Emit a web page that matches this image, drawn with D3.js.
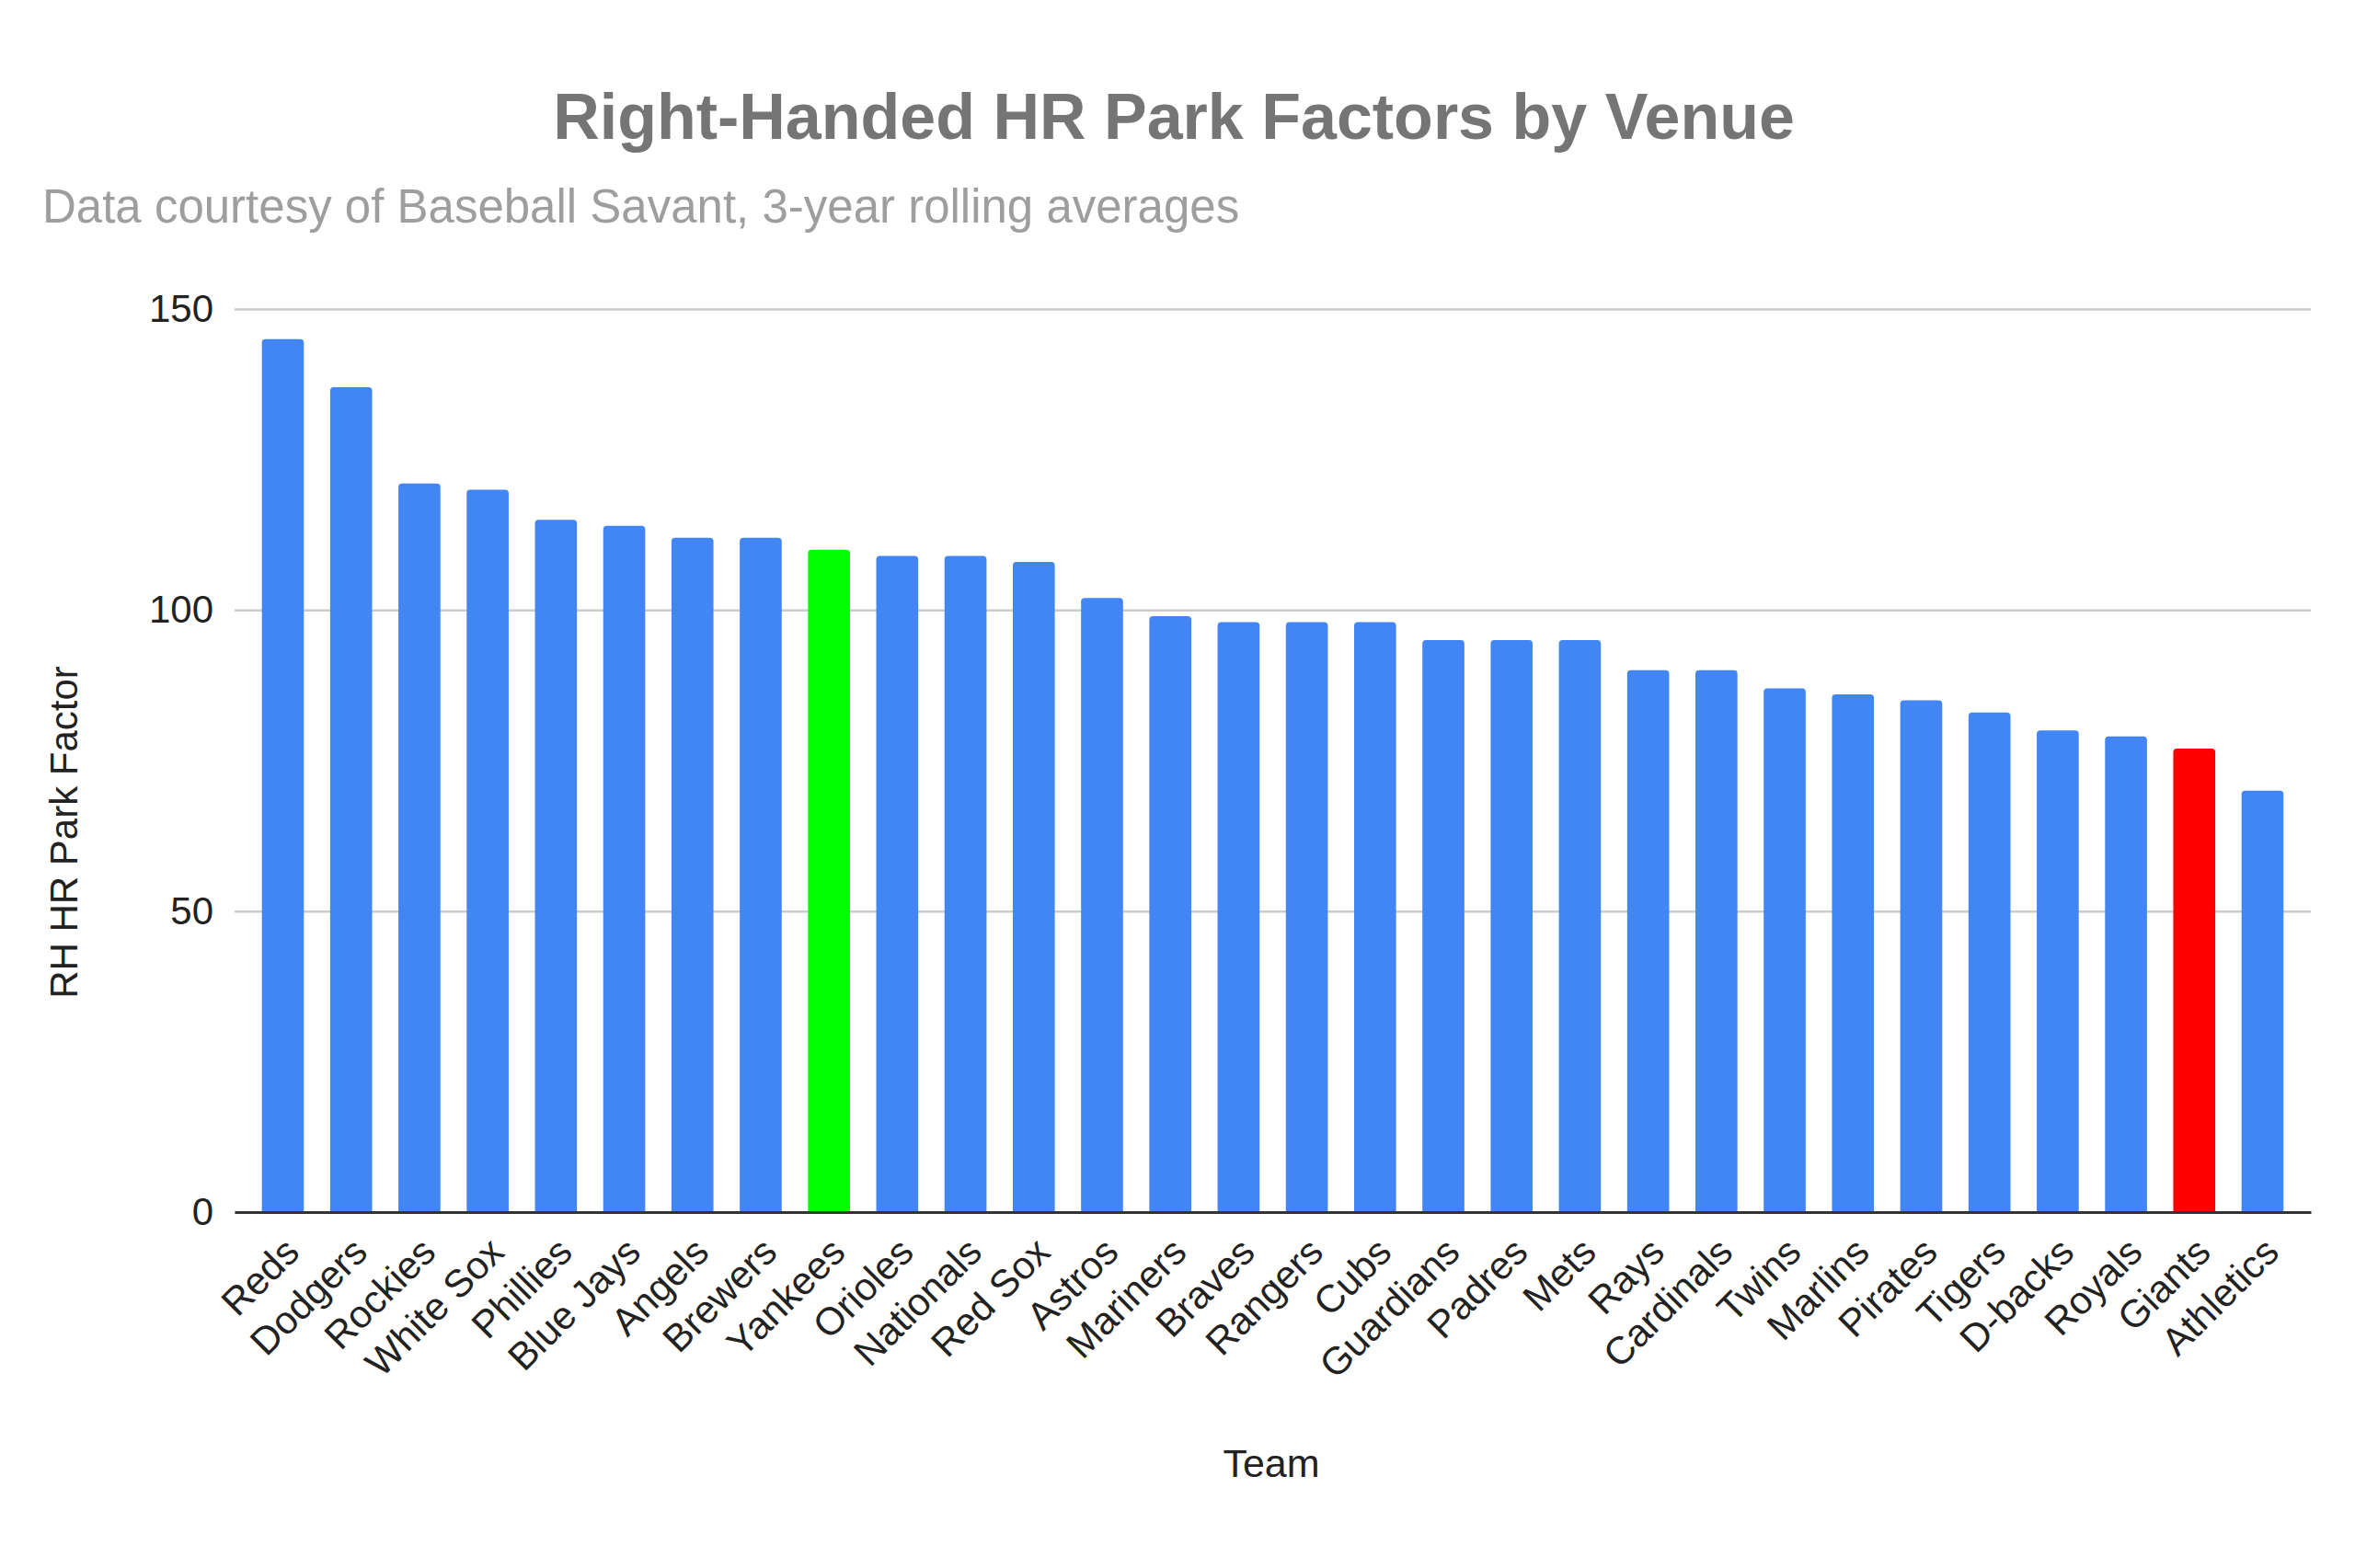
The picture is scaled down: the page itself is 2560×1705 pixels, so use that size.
<!DOCTYPE html>
<html>
<head>
<meta charset="utf-8">
<script src="https://cdn.jsdelivr.net/npm/d3@7"></script>
<style>
  body { margin: 0; background: #fff; }
  text { font-family: "Liberation Sans", Arial, sans-serif; }
</style>
</head>
<body>
<svg id="chart" width="2560" height="1705"></svg>
<script>
// data
var teams = ["Reds","Dodgers","Rockies","White Sox","Phillies","Blue Jays","Angels","Brewers","Yankees","Orioles",
  "Nationals","Red Sox","Astros","Mariners","Braves","Rangers","Cubs","Guardians","Padres","Mets",
  "Rays","Cardinals","Twins","Marlins","Pirates","Tigers","D-backs","Royals","Giants","Athletics"]
var factors = [145, 137, 121, 120, 115, 114, 112, 112, 110, 109,
  109, 108, 102, 99, 98, 98, 98, 95, 95, 95,
  90, 90, 87, 86, 85, 83, 80, 79, 77, 70]
var highlight = {"Yankees": "#00ff00", "Giants": "#ff0000"}
var yTicks = [0, 50, 100, 150]

var BAR_COLOR = "#4285f4"
var svg = d3.select("#chart")

var x = d3.scaleBand().domain(teams).range([255, 2512]).paddingInner(0.385).paddingOuter(0.4)
var y = d3.scaleLinear().domain([0, 150]).range([1318, 336])

// title + subtitle
svg.append("text").attr("x", 1276).attr("y", 151).attr("text-anchor", "middle")
  .style("font-size", "70px").style("font-weight", "bold").style("fill", "#757575")
  .text("Right-Handed HR Park Factors by Venue")
svg.append("text").attr("x", 46).attr("y", 242)
  .style("font-size", "51px").style("fill", "#9e9e9e")
  .text("Data courtesy of Baseball Savant, 3-year rolling averages")

// gridlines + y labels
var yAxis = svg.append("g").attr("transform", "translate(255,0)")
  .call(d3.axisLeft(y).tickValues(yTicks).tickSize(-(2512 - 255)).tickPadding(23))
yAxis.select(".domain").remove()
yAxis.selectAll(".tick line").attr("stroke", "#cccccc").attr("stroke-width", 2.5)
yAxis.selectAll(".tick text").style("font-size", "42px").style("fill", "#222")
  .style("font-family", "'Liberation Sans', Arial, sans-serif")

// bars with slightly rounded tops
function barPath(d, i) {
  var x0 = x(teams[i]), w = x.bandwidth(), y0 = y(0), y1 = y(d), r = 4
  return "M" + x0 + "," + y0 + "V" + (y1 + r) + "Q" + x0 + "," + y1 + " " + (x0 + r) + "," + y1 +
    "H" + (x0 + w - r) + "Q" + (x0 + w) + "," + y1 + " " + (x0 + w) + "," + (y1 + r) + "V" + y0 + "Z"
}
svg.append("g").selectAll("path").data(factors).join("path")
  .attr("d", barPath)
  .attr("fill", function(d, i){ return highlight[teams[i]] || BAR_COLOR })

// x axis
var xAxis = svg.append("g").attr("transform", "translate(0," + y(0) + ")")
  .call(d3.axisBottom(x).tickSize(0).tickSizeOuter(0))
xAxis.select(".domain").attr("stroke", "#333").attr("stroke-width", 3)
xAxis.selectAll(".tick text")
  .style("font-size", "42px").style("fill", "#222")
  .style("font-family", "'Liberation Sans', Arial, sans-serif")
  .attr("text-anchor", "end").attr("dy", null).attr("y", 0)
  .attr("transform", "translate(20,46) rotate(-45)")

// axis titles
svg.append("text").attr("transform", "translate(84,905) rotate(-90)").attr("text-anchor", "middle")
  .style("font-size", "42px").style("fill", "#222").text("RH HR Park Factor")
svg.append("text").attr("x", 1382).attr("y", 1606).attr("text-anchor", "middle")
  .style("font-size", "43px").style("fill", "#222").text("Team")
</script>
</body>
</html>
